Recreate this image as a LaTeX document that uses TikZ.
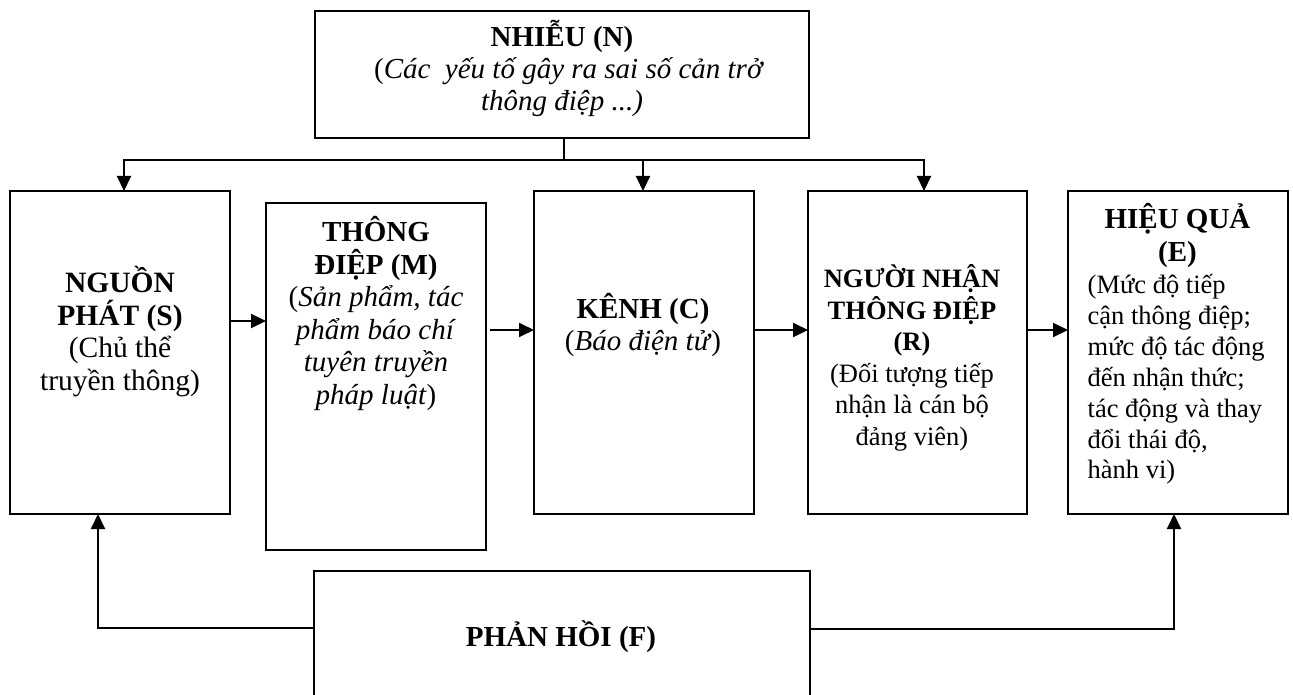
\documentclass[tikz,border=0pt]{standalone}
\usepackage{fontspec}
\setmainfont{Liberation Serif}
\usetikzlibrary{arrows.meta}
\lineskiplimit=-100pt
\newcommand\mystrut{\rule{0pt}{30pt}}
\begin{document}
\begin{tikzpicture}[x=1pt,y=-1pt,
  boxst/.style={draw, line width=2pt, inner sep=0pt, outer sep=0pt},
  conn/.style={line width=2pt, -{Triangle[length=15pt,width=14pt]}},
  plain/.style={line width=2pt},
  txt/.style={inner sep=0pt, anchor=north, align=center},
  txtl/.style={inner sep=0pt, anchor=north west, align=left},
]
\useasboundingbox (0,0) rectangle (1293,695);
\fill[white] (0,0) rectangle (1293,695);

% boxes
\node[boxst, minimum width=494pt, minimum height=127pt] (N) at (562,74.5) {};
\node[boxst, minimum width=220pt, minimum height=323pt] (S) at (120,352.5) {};
\node[boxst, minimum width=220pt, minimum height=347pt] (M) at (376,376.5) {};
\node[boxst, minimum width=220pt, minimum height=323pt] (C) at (644,352.5) {};
\node[boxst, minimum width=219pt, minimum height=323pt] (R) at (917.5,352.5) {};
\node[boxst, minimum width=220pt, minimum height=323pt] (E) at (1178,352.5) {};
\node[boxst, minimum width=496pt, minimum height=149pt] (F) at (562,645.5) {};

% texts
\node[txt, font=\fontsize{29}{32}\selectfont] (tN) at (562,16)
  {\mystrut\textbf{NHIỄU (N)}\\\hspace*{14pt}(\textit{Các~ yếu tố gây ra sai số cản trở}\\\textit{thông điệp ...)}};
\node[txt, font=\fontsize{29.5}{32.6}\selectfont] (tS) at (120,262.3)
  {\mystrut\textbf{NGUỒN}\\\textbf{PHÁT (S)}\\(Chủ thể\\truyền thông)};
\node[txt, font=\fontsize{29}{32.5}\selectfont] (tM) at (376,211.7)
  {\mystrut\textbf{THÔNG}\\\textbf{ĐIỆP (M)}\\(\textit{Sản phẩm, tác}\\\textit{phẩm báo chí}\\\textit{tuyên truyền}\\\textit{pháp luật})};
\node[txt, font=\fontsize{29}{32.4}\selectfont] (tC) at (643,288.3)
  {\mystrut\textbf{KÊNH (C)}\\(\textit{Báo điện tử})};
\node[txt, font=\fontsize{26.5}{31.5}\selectfont] (tR) at (912,257.3)
  {\mystrut\textbf{NGƯỜI NHẬN}\\\textbf{THÔNG ĐIỆP}\\\textbf{(R)}\\(Đối tượng tiếp\\nhận là cán bộ\\đảng viên)};
\node[txt, font=\fontsize{29}{33.4}\selectfont] (tE) at (1177.5,198.3)
  {\mystrut\textbf{HIỆU QUẢ}\\\textbf{(E)}};
\node[txtl, font=\fontsize{26.5}{30.9}\selectfont] (tE2) at (1087.5,263.3)
  {\mystrut(Mức độ tiếp\\cận thông điệp;\\mức độ tác động\\đến nhận thức;\\tác động và thay\\đổi thái độ,\\hành vi)};
\node[txt, font=\fontsize{29}{32}\selectfont] (tF) at (561,616.7)
  {\mystrut\textbf{PHẢN HỒI (F)}};

% helper coordinates
\coordinate (j1) at (564,160);
\coordinate (j2) at (643,160);
\coordinate (sx) at (124,0);
\coordinate (rx) at (924,0);
\coordinate (y1) at (0,321);
\coordinate (y2) at (0,330);
\coordinate (mx) at (490,0);
\coordinate (fl) at (98,628);
\coordinate (fr) at (1174,629);

% connectors
\draw[plain] (N.south -| j1) -- (j1);
\draw[conn] (j1) -| (S.north -| sx);
\draw[conn] (j1) -| (C.north -| j2);
\draw[conn] (j2) -| (R.north -| rx);
\draw[conn] (S.east |- y1) -- (M.west |- y1);
\draw[conn] (mx |- y2) -- (C.west |- y2);
\draw[conn] (C.east |- y2) -- (R.west |- y2);
\draw[conn] (R.east |- y2) -- (E.west |- y2);
\draw[conn] (F.west |- fl) -| (S.south -| fl);
\draw[conn] (F.east |- fr) -| (E.south -| fr);
\end{tikzpicture}
\end{document}
